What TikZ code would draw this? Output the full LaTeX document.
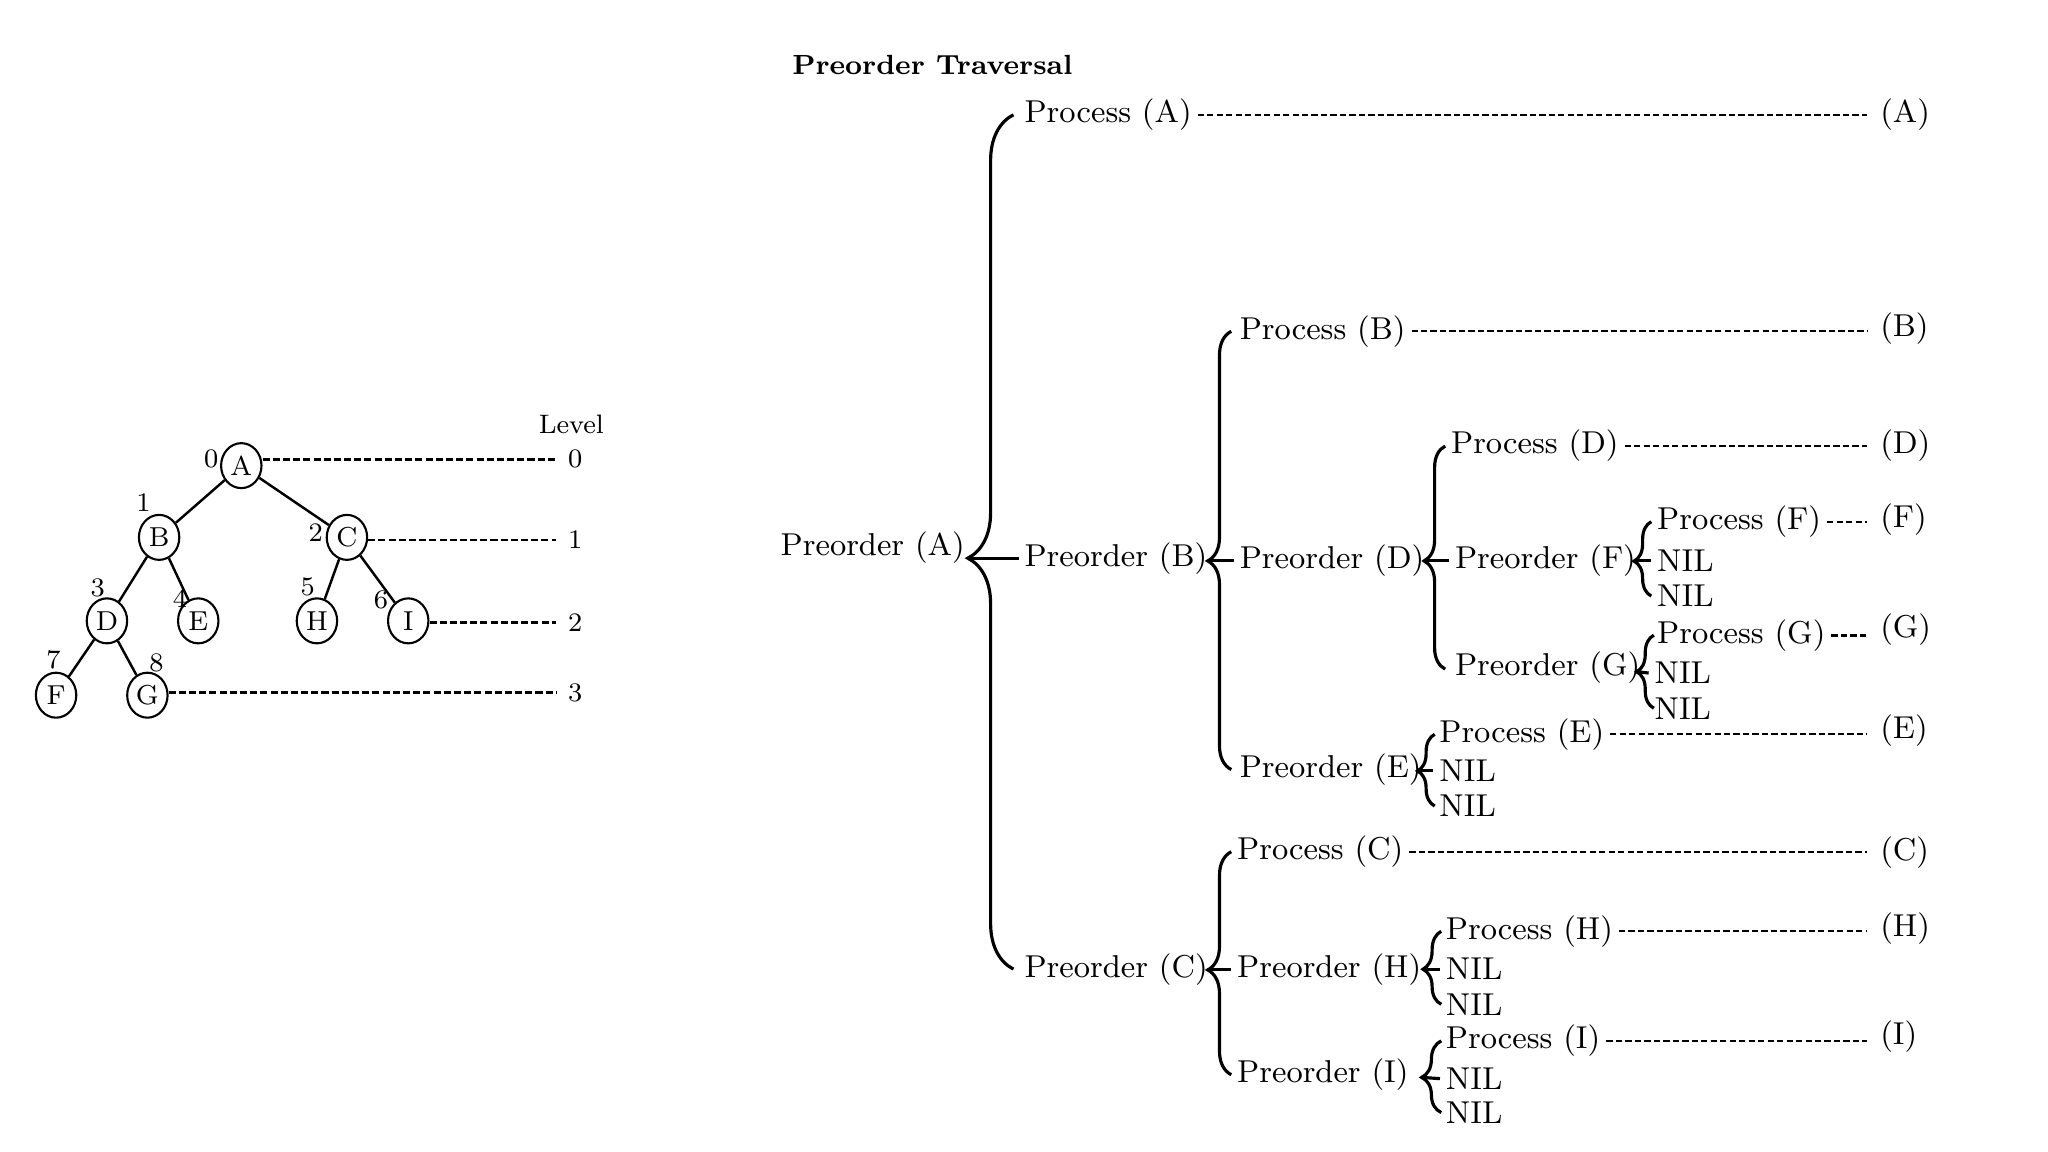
\documentclass[tikz,border=0pt]{standalone}
\usetikzlibrary{decorations.pathreplacing,shapes.geometric}

\tikzset{
  txt/.style={anchor=west, inner sep=1.5pt, font=\fontsize{9}{11}\selectfont},
  vtx/.style={draw, ellipse, line width=0.6pt, minimum width=11.5pt, minimum height=12.8pt,
    inner sep=0pt, font=\fontsize{7.8}{9}\selectfont},
  num/.style={inner sep=1pt, font=\fontsize{7.6}{9}\selectfont},
  lvl/.style={line width=0.8pt, dash pattern=on 2pt off 0.9pt, shorten >=2pt},
  guide/.style={line width=0.55pt, dash pattern=on 1.8pt off 0.9pt, shorten >=2pt},
  brc/.style={decorate, decoration={brace, amplitude=#1}, line width=0.9pt},
  tick/.style={line width=0.9pt}
}

\begin{document}
\begin{tikzpicture}[x=0.013043cm, y=-0.013043cm]
    \useasboundingbox (0,0) rectangle (1570.2,883.2);

    % the tree
    \begin{scope}[line width=0.7pt]
      \node[vtx] (A) at (185,357) {A};
      \node[vtx] (B) at (122,412) {B};
      \node[vtx] (C) at (266,412) {C};
      \node[vtx] (D) at (82,476)  {D};
      \node[vtx] (E) at (152,476) {E};
      \node[vtx] (H) at (243,476) {H};
      \node[vtx] (I) at (313,476) {I};
      \node[vtx] (F) at (43,533)  {F};
      \node[vtx] (G) at (113,533) {G};
      \draw (A) -- (B);
      \draw (A) -- (C);
      \draw (B) -- (D);
      \draw (B) -- (E);
      \draw (C) -- (H);
      \draw (C) -- (I);
      \draw (D) -- (F);
      \draw (D) -- (G);

      \node[num] (i0) at (162,352) {0};
      \node[num] (i1) at (110,385) {1};
      \node[num] (i2) at (242,408) {2};
      \node[num] (i3) at (75,451)  {3};
      \node[num] (i4) at (138,459) {4};
      \node[num] (i5) at (236,450) {5};
      \node[num] (i6) at (292,460) {6};
      \node[num] (i7) at (41,506)  {7};
      \node[num] (i8) at (120,508) {8};

      \node[num] (lev) at (438,325) {Level};
      \node[num] (l0) at (441,352) {0};
      \node[num] (l1) at (441,414) {1};
      \node[num] (l2) at (441,477) {2};
      \node[num] (l3) at (441,531) {3};
      \draw[lvl] (A.east |- l0) -- (l0.west);
      \draw[lvl] (C.east |- l1) -- (l1.west);
      \draw[lvl] (I.east |- l2) -- (l2.west);
      \draw[lvl] (G.east |- l3) -- (l3.west);
    \end{scope}

    % the traversal
    \node[anchor=west, inner sep=0pt, font=\fontsize{7.9}{10}\selectfont\bfseries] (title) at (607,50) {Preorder Traversal};

    \node[txt] (pA) at (594,420)  {Preorder (A)};
    \node[txt] (sA) at (781,88)   {Process (A)};
    \node[txt] (pB) at (781,428)  {Preorder (B)};
    \node[txt] (pC) at (781,743)  {Preorder (C)};

    \node[txt] (sB) at (946,254)  {Process (B)};
    \node[txt] (pD) at (946,430)  {Preorder (D)};
    \node[txt] (pE) at (946,590)  {Preorder (E)};

    \node[txt] (sD) at (1108,342) {Process (D)};
    \node[txt] (pF) at (1111,430) {Preorder (F)};
    \node[txt] (pG) at (1111,512) {Preorder (G)};

    \node[txt] (sF) at (1266,400) {Process (F)};
    \node[txt] (nF1) at (1266,430) {NIL};
    \node[txt] (nF2) at (1266,457) {NIL};
    \node[txt] (sG) at (1266,487) {Process (G)};
    \node[txt] (nG1) at (1264,516) {NIL};
    \node[txt] (nG2) at (1264,543) {NIL};

    \node[txt] (sE) at (1099,563) {Process (E)};
    \node[txt] (nE1) at (1099,591) {NIL};
    \node[txt] (nE2) at (1099,618) {NIL};

    \node[txt] (sC) at (944,653)  {Process (C)};
    \node[txt] (pH) at (944,743)  {Preorder (H)};
    \node[txt] (pI) at (944,824)  {Preorder (I)};

    \node[txt] (sH) at (1104,714) {Process (H)};
    \node[txt] (nH1) at (1104,743) {NIL};
    \node[txt] (nH2) at (1104,770) {NIL};
    \node[txt] (sI) at (1104,798) {Process (I)};
    \node[txt] (nI1) at (1104,827) {NIL};
    \node[txt] (nI2) at (1104,853) {NIL};

    \node[txt] (rA) at (1437,88)  {(A)};
    \node[txt] (rB) at (1437,252) {(B)};
    \node[txt] (rD) at (1437,342) {(D)};
    \node[txt] (rF) at (1437,398) {(F)};
    \node[txt] (rG) at (1437,483) {(G)};
    \node[txt] (rE) at (1437,560) {(E)};
    \node[txt] (rC) at (1437,654) {(C)};
    \node[txt] (rH) at (1437,712) {(H)};
    \node[txt] (rI) at (1437,795) {(I)};

    \draw[guide] (sA.east) -- (sA.east -| rA.west);
    \draw[guide] (sB.east) -- (sB.east -| rB.west);
    \draw[guide] (sD.east) -- (sD.east -| rD.west);
    \draw[guide] (sF.east) -- (sF.east -| rF.west);
    \draw[guide, line width=0.9pt] (sG.east) -- (sG.east -| rG.west);
    \draw[guide] (sE.east) -- (sE.east -| rE.west);
    \draw[guide] (sC.east) -- (sC.east -| rC.west);
    \draw[guide] (sH.east) -- (sH.east -| rH.west);
    \draw[guide] (sI.east) -- (sI.east -| rI.west);

    % braces, drawn bottom to top
    \draw[brc=13pt, decoration={aspect=0.481}] (777,743) -- (777,88);
    \draw[brc=6.7pt, decoration={aspect=0.476}] (944,590) -- (944,254);
    \draw[brc=6pt, decoration={aspect=0.485}] (1108,513) -- (1108,342);
    \draw[brc=4.9pt, decoration={aspect=0.47}] (1266,457) -- (1266,400);
    \draw[brc=4.9pt, decoration={aspect=0.5}] (1268,543) -- (1268,487);
    \draw[brc=4.9pt, decoration={aspect=0.49}] (1100,618) -- (1100,563);
    \draw[brc=6.7pt, decoration={aspect=0.47}] (944,824) -- (944,653);
    \draw[brc=5.2pt, decoration={aspect=0.48}] (1105,770) -- (1105,714);
    \draw[brc=5.6pt, decoration={aspect=0.49}] (1105,853) -- (1105,798);

    \coordinate (tA) at (742,428);
    \coordinate (tB) at (926,430);
    \coordinate (tD) at (1092,430);
    \coordinate (tF) at (1253,430);
    \coordinate (tG) at (1255,515);
    \coordinate (tE) at (1087,591);
    \coordinate (tC) at (926,743);
    \coordinate (tH) at (1091,743);
    \coordinate (tI) at (1090,826);
    \draw[tick] (tA) -- (pB.west);
    \draw[tick] (tB) -- (pD.west);
    \draw[tick] (tD) -- (pF.west);
    \draw[tick] (tF) -- (nF1.west);
    \draw[tick] (tG) -- (nG1.west);
    \draw[tick] (tE) -- (nE1.west);
    \draw[tick] (tC) -- (pH.west);
    \draw[tick] (tH) -- (nH1.west);
    \draw[tick] (tI) -- (nI1.west);
\end{tikzpicture}
\end{document}
